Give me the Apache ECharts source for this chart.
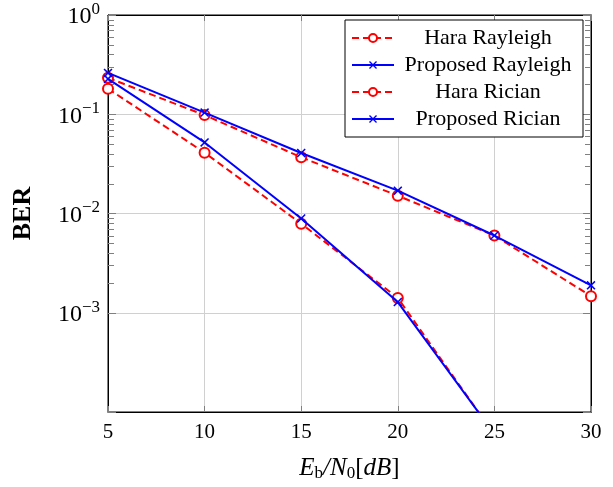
<!DOCTYPE html>
<html><head><meta charset="utf-8">
<script src="https://cdn.jsdelivr.net/npm/echarts@6/dist/echarts.min.js"></script>
<style>html,body{margin:0;padding:0;background:#fff}#c{width:613px;height:487px}</style>
</head><body><div id="c"></div>
<script>
var ebn0 = [5, 10, 15, 20, 25, 30];
var haraRayleigh = [0.233, 0.098, 0.0369, 0.0151, 0.0060, 0.00147];
var propRayleigh = [0.261, 0.104, 0.0407, 0.0170, 0.0060, 0.00189];
var haraRician = [0.181, 0.041, 0.0079, 0.00141, 0.000059];
var propRician = [0.227, 0.052, 0.0089, 0.00128, 0.000060];
var xTicks = [5, 10, 15, 20, 25, 30];
var minorDecades = [1e-3, 1e-2, 1e-1];
var minorMult = [2, 3, 4, 5, 6, 7, 8, 9];

var FONT = 'Liberation Serif';
var RED = '#ff0000', BLUE = '#0000ff';
var XSYM = 'path://M0,1.2 L1.2,0 L5,3.8 L8.8,0 L10,1.2 L6.2,5 L10,8.8 L8.8,10 L5,6.2 L1.2,10 L0,8.8 L3.8,5 Z';

function pairs(xs, ys) { return ys.map(function (v, i) { return [xs[i], v]; }); }
var minorVals = [];
minorDecades.forEach(function (d) { minorMult.forEach(function (m) { minorVals.push([5, m * d]); }); });

function haraSeries(name, ys) {
  return { name: name, type: 'line', data: pairs(ebn0, ys), symbol: 'circle', symbolSize: 10,
    lineStyle: { color: RED, width: 2, type: [7, 4] },
    itemStyle: { color: '#fff', borderColor: RED, borderWidth: 2 }, clip: true, z: 3 };
}
function propSeries(name, ys) {
  return { name: name, type: 'line', data: pairs(ebn0, ys), symbol: XSYM, symbolSize: 9,
    lineStyle: { color: BLUE, width: 2 },
    itemStyle: { color: BLUE, borderWidth: 0 }, clip: true, z: 4 };
}

var chart = echarts.init(document.getElementById('c'), null, { renderer: 'canvas' });
var legendNames = ['Hara Rayleigh', 'Proposed Rayleigh', 'Hara Rician', 'Proposed Rician'];
chart.setOption({
  animation: false,
  grid: { left: 108, right: 22, top: 15, bottom: 73, show: true, borderColor: '#000', borderWidth: 1, backgroundColor: 'transparent' },
  legend: {
    data: legendNames, orient: 'vertical', left: 345, top: 20, itemWidth: 42, itemHeight: 10, itemGap: 5,
    padding: [7, 6, 7, 6], borderColor: '#000', borderWidth: 1, backgroundColor: '#fff',
    formatter: function (n) { return '{c|' + n + '}'; },
    textStyle: { rich: { c: { fontFamily: FONT, fontSize: 22, width: 178, align: 'center', lineHeight: 22, color: '#000' } } }
  },
  xAxis: [{
    type: 'value', min: 5, max: 30, interval: 5,
    name: '{i|E}{s|b}{i|/N}{s|0}{n|[}{i|dB}{n|]}', nameLocation: 'middle', nameGap: 42,
    nameTextStyle: { rich: {
      i: { fontFamily: FONT, fontStyle: 'italic', fontSize: 25, lineHeight: 28, color: '#000' },
      n: { fontFamily: FONT, fontSize: 25, lineHeight: 28, color: '#000' },
      s: { fontFamily: FONT, fontSize: 17, lineHeight: 14, verticalAlign: 'bottom', color: '#000' } } },
    axisLine: { lineStyle: { color: '#000', width: 1 } },
    axisTick: { inside: true, length: 6, lineStyle: { color: '#808080' } },
    axisLabel: { fontFamily: FONT, fontSize: 21, color: '#000', margin: 10 },
    splitLine: { show: true, lineStyle: { color: '#d0d0d0', width: 1 } }
  }, {
    type: 'value', min: 5, max: 30, interval: 5, position: 'top',
    axisLine: { lineStyle: { color: '#000' } },
    axisTick: { inside: true, length: 6, lineStyle: { color: '#808080' } },
    axisLabel: { show: false }, splitLine: { show: false }
  }],
  yAxis: [{
    type: 'log', logBase: 10, min: 1e-4, max: 1, splitNumber: 4,
    name: 'BER', nameLocation: 'middle', nameGap: 72, nameRotate: 90,
    nameTextStyle: { fontFamily: FONT, fontWeight: 'bold', fontSize: 26, color: '#000' },
    axisLine: { lineStyle: { color: '#000' } },
    axisTick: { inside: true, length: 8, lineStyle: { color: '#808080' } },
    axisLabel: { margin: 8, formatter: function (v) {
        var e = Math.round(Math.log10(v));
        if (e === -4) return '';
        return '{b|10}{p|' + (e < 0 ? '\u2212' + (-e) : e) + '}';
      }, rich: {
        b: { fontFamily: FONT, fontSize: 24, lineHeight: 28, color: '#000', padding: [4, 0, 0, 0] },
        p: { fontFamily: FONT, fontSize: 17, lineHeight: 12, verticalAlign: 'top', color: '#000' } } },
    splitLine: { show: true, lineStyle: { color: '#d0d0d0', width: 1 } }
  }, {
    type: 'log', logBase: 10, min: 1e-4, max: 1, splitNumber: 4, position: 'right',
    axisLine: { lineStyle: { color: '#000' } },
    axisTick: { inside: true, length: 8, lineStyle: { color: '#808080' } },
    axisLabel: { show: false }, splitLine: { show: false }
  }],
  series: [
    haraSeries('Hara Rayleigh', haraRayleigh),
    propSeries('Proposed Rayleigh', propRayleigh),
    haraSeries('Hara Rician', haraRician),
    propSeries('Proposed Rician', propRician),
    { type: 'custom', name: 'minor', data: minorVals, silent: true, z: 1,
      renderItem: function (params, api) {
        var v = api.value(1);
        var pl = api.coord([5, v]), pr = api.coord([30, v]);
        var st = { stroke: '#808080', lineWidth: 1 };
        var y = Math.round(pl[1]) + 0.5;
        return { type: 'group', children: [
          { type: 'line', shape: { x1: pl[0], y1: y, x2: pl[0] + 6, y2: y }, style: st },
          { type: 'line', shape: { x1: pr[0] - 6, y1: y, x2: pr[0], y2: y }, style: st } ] };
      } }
  ]
});
</script></body></html>
